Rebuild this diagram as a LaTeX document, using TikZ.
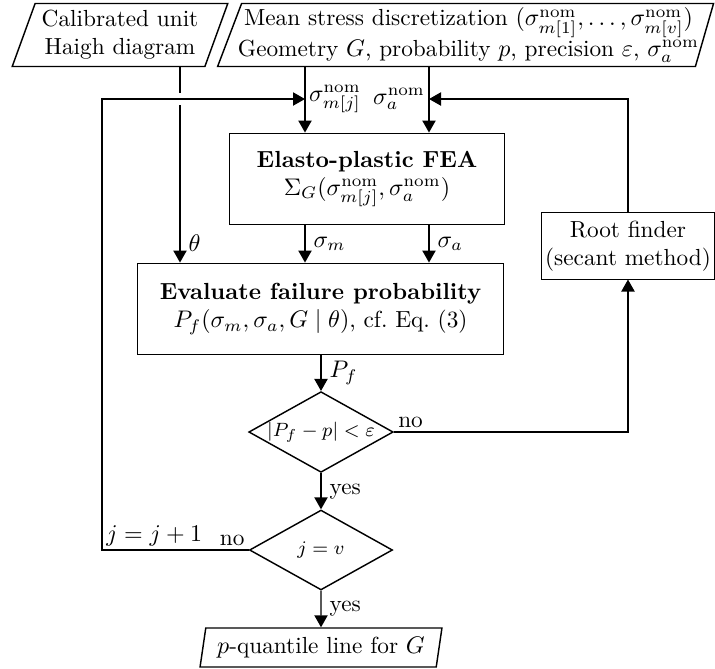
\documentclass[tikz,border=0pt]{standalone}
\usepackage{amssymb}
\usepackage{amsmath}
\usepackage{tikz}
\usetikzlibrary{shapes.geometric,arrows.meta}

\begin{document}
\begin{tikzpicture}[x=0.41667pt, y=-0.41667pt,
  every node/.style = {font=\fontsize{9.7pt}{11.6pt}\selectfont},
  box/.style = {shape=rectangle, draw, align=center},
  io/.style = {trapezium, draw, semithick, align=center,
    trapezium stretches=true, trapezium left angle=68,
    trapezium right angle=112, inner xsep=1pt, inner ysep=1pt},
  test/.style = {diamond, draw, semithick, aspect=1.79, inner sep=0pt,
    minimum width=59.6pt, minimum height=33.3pt, font=\footnotesize},
  arr/.style = {semithick, -{Triangle[width=5.5pt,length=5pt]}},
  lbl/.style = {inner sep=1.5pt},
 ]
 \useasboundingbox (0,0) rectangle (715,668);

 \node[io, minimum width=90pt, minimum height=26.25pt] (haigh) at (120,35)
   {Calibrated unit\\Haigh diagram};
 \node[io, trapezium right angle=107, inner xsep=-1.5pt,
   minimum width=204.6pt, minimum height=26.25pt] (input) at (468.5,35)
   {Mean stress discretization $(\sigma^{\mathrm{nom}}_{m[1]},\dots,\sigma^{\mathrm{nom}}_{m[v]})$\\
    Geometry $G$, probability $p$, precision $\varepsilon$, $\sigma^{\mathrm{nom}}_a$};
 \node[box, minimum width=114.2pt, minimum height=38.3pt] (fea) at (367,179)
   {\textbf{Elasto-plastic FEA}\\$\Sigma_G(\sigma^{\mathrm{nom}}_{m[j]},\sigma^{\mathrm{nom}}_a)$};
 \node[box, minimum width=152.9pt, minimum height=38.3pt] (eval) at (320.5,309)
   {\textbf{Evaluate failure probability}\\$P_f(\sigma_m,\sigma_a,G\mid\theta)$, cf.\ Eq.~(3)};
 \node[box, minimum width=71.7pt, minimum height=27.5pt, inner xsep=0.5pt] (root) at (628,246)
   {Root finder\\(secant method)};
 \node[test] (dec1) at (321,432) {$|P_f-p|<\varepsilon$};
 \node[test] (dec2) at (321,550) {$j=v$};
 \node[io, trapezium left angle=78, trapezium right angle=102, inner xsep=3pt,
   minimum width=100.8pt, minimum height=16.25pt] (out) at (321,647.5)
   {$p$-quantile line for $G$};

 \coordinate (th) at (180,99);
 \coordinate (mj) at (305,99);
 \coordinate (aj) at (429,99);
 \coordinate (back) at (102,99);
 \node[lbl, right] at (mj) {$\sigma^{\mathrm{nom}}_{m[j]}$};
 \node[lbl, left] at (aj) {$\sigma^{\mathrm{nom}}_a$};

 \draw[semithick] (haigh.south -| th) -- ([yshift=2.5pt]th);
 \draw[arr] ([yshift=-2.5pt]th) -- node[pos=0.88, right] {$\theta$} (eval.north -| th);
 \draw[arr] (input.south -| mj) -- (fea.north -| mj);
 \draw[arr] (input.south -| aj) -- (fea.north -| aj);
 \draw[arr] (fea.south -| mj) -- node[right] {$\sigma_m$} (eval.north -| mj);
 \draw[arr] (fea.south -| aj) -- node[right] {$\sigma_a$} (eval.north -| aj);
 \draw[arr] (eval.south -| dec1) -- node[right] {$P_f$} (dec1.north);
 \draw[arr] (dec1) -- node[right] {yes} (dec2);
 \draw[arr] (dec2) -- node[right] {yes} (out);
 \draw[arr] (dec1.east) -| node[lbl, pos=0, above right] {no} (root.south);
 \draw[arr] (root.north) |- (aj);
 \draw[arr] (dec2.west) -| node[lbl, pos=0, above left] {no}
   node[lbl, pos=0.5, above right] {$j=j+1$} (back) -- (mj);
\end{tikzpicture}
\end{document}
